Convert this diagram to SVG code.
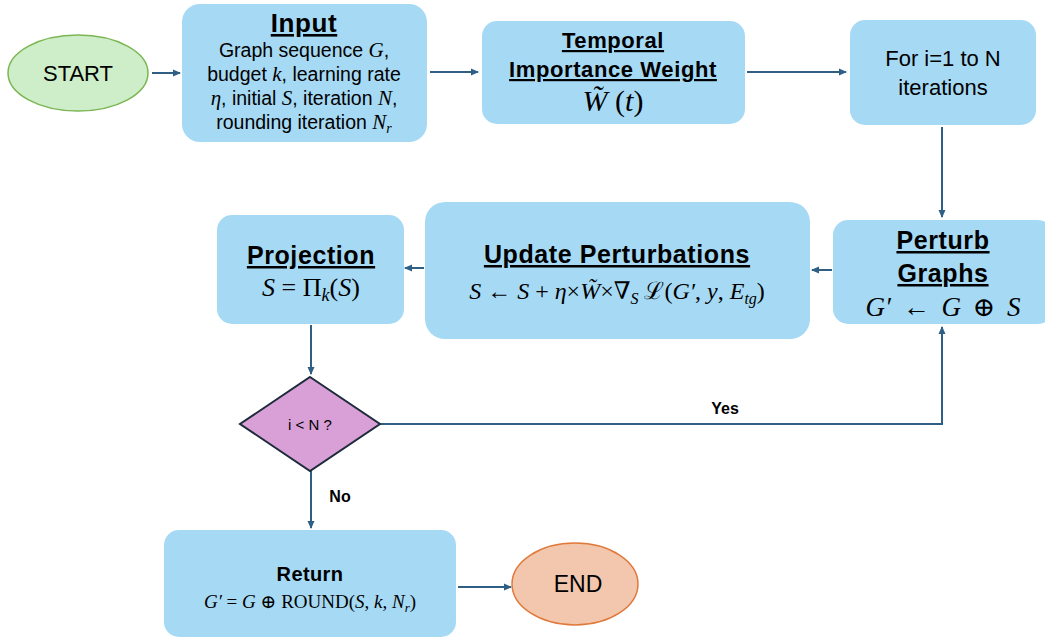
<svg xmlns="http://www.w3.org/2000/svg" width="1045" height="638" viewBox="0 0 1045 638">
<defs>
<marker id="ah" markerWidth="8" markerHeight="8" refX="7" refY="4" orient="auto" markerUnits="userSpaceOnUse"><path d="M0,0.5 L8,4 L0,7.5 z" fill="#2f5f85"/></marker>
<style>
.box{fill:#a6daf4;}
.t{font-family:"Liberation Sans",Arial,sans-serif;fill:#000;text-anchor:middle;}
.ttl{font-family:"Liberation Sans",Arial,sans-serif;font-weight:bold;fill:#000;text-anchor:middle;text-decoration:underline;letter-spacing:0.6px;}
.m{font-family:"Liberation Serif","DejaVu Serif",serif;fill:#000;text-anchor:middle;}
.i{font-style:italic;}
.c{fill:none;stroke:#2f5f85;stroke-width:2;}
</style>
</defs>
<rect width="1045" height="638" fill="#fff"/>
<g id="connectors">
<line class="c" x1="152" y1="73" x2="180" y2="73" marker-end="url(#ah)"/>
<line class="c" x1="430" y1="72" x2="478" y2="72" marker-end="url(#ah)"/>
<line class="c" x1="747" y1="72" x2="846" y2="72" marker-end="url(#ah)"/>
<line class="c" x1="942" y1="127" x2="942" y2="217" marker-end="url(#ah)"/>
<line class="c" x1="832" y1="270" x2="812" y2="270" marker-end="url(#ah)"/>
<line class="c" x1="424" y1="268" x2="405" y2="268" marker-end="url(#ah)"/>
<line class="c" x1="311" y1="325" x2="311" y2="374" marker-end="url(#ah)"/>
<polyline class="c" points="380,424 942,424 942,327" marker-end="url(#ah)"/>
<line class="c" x1="311" y1="471" x2="311" y2="528" marker-end="url(#ah)"/>
<line class="c" x1="458" y1="587" x2="511" y2="587" marker-end="url(#ah)"/>
<text x="725" y="414" class="t" font-size="16" font-weight="bold">Yes</text>
<text x="340" y="502" class="t" font-size="16" font-weight="bold">No</text>
</g>
<g id="start">
<ellipse cx="78" cy="73" rx="70" ry="38" fill="#cdeec8" stroke="#7cb654" stroke-width="1.5"/>
<text x="78" y="81" class="t" font-size="22">START</text>
</g>
<g id="input">
<rect class="box" x="182" y="4" width="245" height="138" rx="18"/>
<text x="304" y="32" class="ttl" font-size="26">Input</text>
<text x="304" y="57" class="t" font-size="19.5">Graph sequence <tspan class="m i" font-size="21">G</tspan>,</text>
<text x="304" y="81" class="t" font-size="19.5">budget <tspan class="m i" font-size="21">k</tspan>, learning rate</text>
<text x="304" y="105" class="t" font-size="19.5"><tspan class="m i" font-size="21">η</tspan>, initial <tspan class="m i" font-size="21">S</tspan>, iteration <tspan class="m i" font-size="21">N</tspan>,</text>
<text x="304" y="129" class="t" font-size="19.5">rounding iteration <tspan class="m i" font-size="21">N</tspan><tspan class="m i" font-size="14" dy="4">r</tspan></text>
</g>
<g id="temporal">
<rect class="box" x="482" y="21" width="263" height="103" rx="15"/>
<text x="613" y="48" class="ttl" font-size="22">Temporal</text>
<text x="613" y="77" class="ttl" font-size="22">Importance Weight</text>
<text x="613" y="111" class="m" font-size="30"><tspan class="i">W̃</tspan> (<tspan class="i">t</tspan>)</text>
</g>
<g id="foriter">
<rect class="box" x="850" y="20" width="186" height="105" rx="15"/>
<text x="943" y="66" class="t" font-size="22">For i=1 to N</text>
<text x="943" y="95" class="t" font-size="22">iterations</text>
</g>
<g id="perturb">
<rect class="box" x="833" y="220" width="220" height="104" rx="15"/>
<text x="943" y="249" class="ttl" font-size="25">Perturb</text>
<text x="943" y="282" class="ttl" font-size="25">Graphs</text>
<text x="943" y="316" class="m" font-size="27" word-spacing="5"><tspan class="i">G′</tspan> ← <tspan class="i">G</tspan> ⊕ <tspan class="i">S</tspan></text>
</g>
<g id="update">
<rect class="box" x="425" y="202" width="385" height="137" rx="20"/>
<text x="617" y="263" class="ttl" font-size="25">Update Perturbations</text>
<text x="617" y="299" class="m" font-size="24"><tspan class="i">S</tspan> ← <tspan class="i">S</tspan> + <tspan class="i">η</tspan>×<tspan class="i">W̃</tspan>×∇<tspan class="i" font-size="16" dy="5">S</tspan><tspan dy="-5"> ℒ(</tspan><tspan class="i">G′</tspan>, <tspan class="i">y</tspan>, <tspan class="i">E</tspan><tspan class="i" font-size="16" dy="5">tg</tspan><tspan dy="-5">)</tspan></text>
</g>
<g id="projection">
<rect class="box" x="217" y="215" width="187" height="109" rx="15"/>
<text x="311" y="264" class="ttl" font-size="25">Projection</text>
<text x="311" y="296" class="m" font-size="26"><tspan class="i">S</tspan> = Π<tspan class="i" font-size="18" dy="5">k</tspan><tspan dy="-5">(</tspan><tspan class="i">S</tspan>)</text>
</g>
<g id="decision">
<polygon points="310,377 380,424 310,471 240,424" fill="#d9a0d8" stroke="#1d2b3a" stroke-width="2"/>
<text x="310" y="430" class="t" font-size="15">i &lt; N ?</text>
</g>
<g id="return">
<rect class="box" x="164" y="530" width="292" height="107" rx="15"/>
<text x="310" y="581" class="t" font-size="20" font-weight="bold" letter-spacing="0.4">Return</text>
<text x="310" y="608" class="m" font-size="19"><tspan class="i">G′</tspan> = <tspan class="i">G</tspan> ⊕ ROUND(<tspan class="i">S</tspan>, <tspan class="i">k</tspan>, <tspan class="i">N</tspan><tspan class="i" font-size="13" dy="4">r</tspan><tspan dy="-4">)</tspan></text>
</g>
<g id="end">
<ellipse cx="575" cy="584" rx="63" ry="41" fill="#f2c7ae" stroke="#e07a3c" stroke-width="1.5"/>
<text x="578" y="592" class="t" font-size="23">END</text>
</g>
</svg>
